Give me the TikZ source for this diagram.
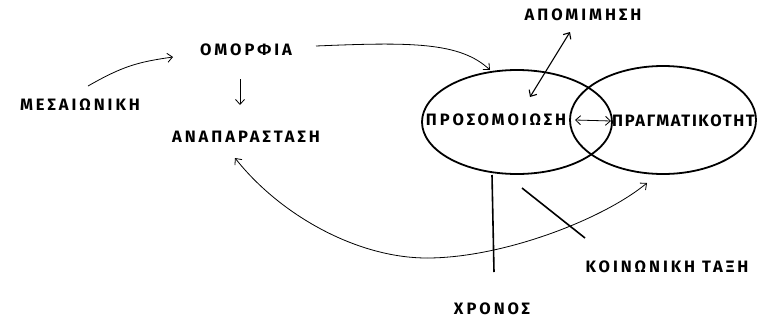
\documentclass[tikz,border=0pt]{standalone}
\usepackage{fontspec}
\setmainfont{Fira Sans}[LetterSpace=18]
\newfontfamily\narrowfont{Fira Sans}[LetterSpace=10]
\usetikzlibrary{shapes.geometric,arrows.meta}
\begin{document}
\begin{tikzpicture}[x=1pt,y=-1pt,
  lbl/.style={font=\fontsize{16.5}{18}\selectfont\bfseries, inner sep=1pt},
  ell/.style={draw, ellipse, line width=1.8pt, inner sep=0pt},
  arr/.style={line width=0.8pt, -{Straight Barb[length=5pt,width=9pt]}},
  darr/.style={line width=1.1pt, {Straight Barb[length=5pt,width=9pt]}-{Straight Barb[length=5pt,width=9pt]}},
  thick line/.style={line width=1.6pt}]
\useasboundingbox (0,0) rectangle (758,322);
\node[ell, minimum width=190pt, minimum height=104pt] (e1) at (517,122) {};
\node[ell, minimum width=186pt, minimum height=108pt] (e2) at (663,120) {};
\node[lbl] (omo) at (246,50) {ΟΜΟΡΦΙΑ};
\node[lbl] (mes) at (80,105) {ΜΕΣΑΙΩΝΙΚΗ};
\node[lbl] (ana) at (246,137) {ΑΝΑΠΑΡΑΣΤΑΣΗ};
\node[lbl] (apo) at (583,15) {ΑΠΟΜΙΜΗΣΗ};
\node[lbl] (pro) at (496,120) {ΠΡΟΣΟΜΟΙΩΣΗ};
\node[lbl,anchor=west,font=\fontsize{16.5}{18}\narrowfont\bfseries] (pra) at (611,121) {ΠΡΑΓΜΑΤΙΚΟΤΗΤ};
\node[lbl] (koi) at (667,267) {ΚΟΙΝΩΝΙΚΗ ΤΑΞΗ};
\node[lbl] (chr) at (492,309) {ΧΡΟΝΟΣ};
\coordinate (low) at (427,258);
% arrows
\draw[arr] ([shift={(8,-19)}]mes.center) .. controls +(35,-20) and +(-35,5) .. ([shift={(-73,7)}]omo.center);
\draw[arr] ([shift={(-6,29)}]omo.center) -- ([shift={(-6,-32)}]ana.center);
\draw[arr] ([shift={(70,-4)}]omo.center) .. controls +(95,-4) and +(-30,-28) .. ([shift={(-27,-52)}]e1.center);
\draw[darr] ([shift={(-13,17)}]apo.center) -- ([shift={(34,-23)}]pro.center);
\draw[darr, line width=0.8pt] ([shift={(58,-2)}]e1.center) -- (pra.west);
\draw[{Straight Barb[length=5pt,width=9pt]}-, line width=0.8pt] ([shift={(-11,21)}]ana.center) .. controls +(45,57) and +(-70,0) .. (low);
\draw[arr] (low) .. controls +(75,0) and +(-45,37) .. ([shift={(-16,63)}]e2.center);
\draw[thick line] ([shift={(-25,53)}]e1.center) -- ([shift={(2,-37)}]chr.center);
\draw[thick line] ([shift={(5,66)}]e1.center) -- ([shift={(-82,-29)}]koi.center);
\end{tikzpicture}
\end{document}
